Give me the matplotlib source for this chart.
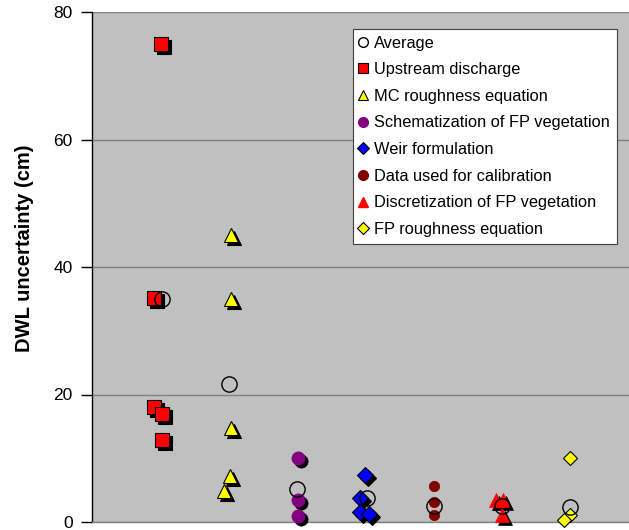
import matplotlib
matplotlib.use("Agg")
import matplotlib.pyplot as plt
from matplotlib.lines import Line2D
from matplotlib.transforms import ScaledTranslation

plt.rcParams['font.family'] = ['Liberation Sans', 'DejaVu Sans']

# ---- data ----
labels = ["Average", "Upstream discharge", "MC roughness equation",
          "Schematization of FP vegetation", "Weir formulation",
          "Data used for calibration", "Discretization of FP vegetation",
          "FP roughness equation"]

# group index, small horizontal jitter, values (cm)
upstream_x = [1.01, 0.91, 0.91, 1.03, 1.02]
upstream_y = [75.0, 35.1, 18.1, 16.9, 12.8]

mc_x = [2.03, 2.03, 2.03, 2.02, 1.93]
mc_y = [45.0, 35.0, 14.8, 7.2, 4.8]

schem_x = [3.01, 3.01, 3.01]
schem_y = [10.0, 3.4, 0.9]

weir_x = [4.0, 3.92, 3.92, 4.06]
weir_y = [7.4, 3.8, 1.6, 1.3]

calib_x = [5.0, 5.0, 5.0]
calib_y = [5.6, 3.1, 1.1]

discr_x = [5.91, 6.01, 6.0]
discr_y = [3.5, 3.5, 1.1]

fprough_x = [7.0, 7.0, 6.91]
fprough_y = [10.0, 1.1, 0.3]

avg_x = [1.02, 2.0, 3.0, 4.02, 5.0, 6.0, 7.0]
avg_y = [35.0, 21.6, 5.2, 3.7, 2.5, 2.5, 2.3]

yticks = [0, 20, 40, 60, 80]

# ---- figure ----
W, H = 629, 530
fig = plt.figure(figsize=(W / 100, H / 100), dpi=100)
ax = fig.add_axes([92 / W, 8 / H, (W - 92) / W, (522 - 12) / H])
ax.set_facecolor('#C0C0C0')
ax.set_xlim(0, 7.86)
ax.set_ylim(0, 80)
ax.set_yticks(yticks)
ax.set_xticks([])
ax.grid(axis='y', color='#808080', linewidth=1.0, zorder=0)
ax.set_axisbelow(True)
for s in ['top', 'right']:
    ax.spines[s].set_visible(False)
ax.spines['left'].set_color('black')
ax.spines['left'].set_linewidth(1.0)
ax.spines['bottom'].set_color('#808080')
ax.spines['bottom'].set_linewidth(1.0)
ax.tick_params(axis='y', length=8, width=1, pad=6, labelsize=12.5, direction='out')
ax.set_ylabel("DWL uncertainty (cm)", fontsize=14.5, fontweight='bold')
ax.yaxis.set_label_coords(-0.108, 0.537)

shadow = ax.transData + ScaledTranslation(3 / 100, -3 / 100, fig.dpi_scale_trans)

series = [
    (upstream_x, upstream_y, dict(marker='s', ms=9.5, mfc='#FF0000', mec='black', mew=0.8), True),
    (mc_x, mc_y, dict(marker='^', ms=10.5, mfc='#FFFF00', mec='black', mew=0.8), True),
    (schem_x, schem_y, dict(marker='o', ms=9.5, mfc='#800080', mec='#800080', mew=0.5), True),
    (weir_x, weir_y, dict(marker='D', ms=8, mfc='#0000FF', mec='black', mew=0.8), True),
    (calib_x, calib_y, dict(marker='o', ms=7.5, mfc='#800000', mec='#800000', mew=0.5), False),
    (discr_x, discr_y, dict(marker='^', ms=9.5, mfc='#FF0000', mec='#FF0000', mew=0.5), True),
    (fprough_x, fprough_y, dict(marker='D', ms=7.5, mfc='#FFFF00', mec='black', mew=0.8), False),
]

z = 3
for xs, ys, st, has_shadow in series:
    if has_shadow:
        ax.plot(xs, ys, linestyle='none', marker=st['marker'], ms=st['ms'],
                mfc='black', mec='black', mew=st['mew'], transform=shadow,
                clip_on=False, zorder=z)
    ax.plot(xs, ys, linestyle='none', clip_on=False, zorder=z + 0.5, **st)
    z += 1

ax.plot(avg_x, avg_y, linestyle='none', marker='o', ms=11, mfc='none',
        mec='black', mew=1.0, clip_on=False, zorder=20)

# ---- legend ----
handles = [
    Line2D([], [], linestyle='none', marker='o', ms=7, mfc='white', mec='black', mew=1.0),
    Line2D([], [], linestyle='none', marker='s', ms=7, mfc='#FF0000', mec='black', mew=0.8),
    Line2D([], [], linestyle='none', marker='^', ms=7.5, mfc='#FFFF00', mec='black', mew=0.8),
    Line2D([], [], linestyle='none', marker='o', ms=7, mfc='#800080', mec='#800080'),
    Line2D([], [], linestyle='none', marker='D', ms=6, mfc='#0000FF', mec='black', mew=0.8),
    Line2D([], [], linestyle='none', marker='o', ms=7, mfc='#800000', mec='#800000'),
    Line2D([], [], linestyle='none', marker='^', ms=7.5, mfc='#FF0000', mec='#FF0000'),
    Line2D([], [], linestyle='none', marker='D', ms=6, mfc='#FFFF00', mec='black', mew=0.8),
]
leg = ax.legend(handles, labels, loc='upper left',
                bbox_to_anchor=(353 / W, 1 - 29 / H), bbox_transform=fig.transFigure,
                borderaxespad=0, fontsize=11.8, frameon=True, fancybox=False,
                framealpha=1, edgecolor='#404040', handlelength=0.44,
                handletextpad=0.46, labelspacing=0.71, borderpad=0.4)
leg.get_frame().set_linewidth(0.8)
leg.set_zorder(30)

fig.savefig("out.png", dpi=100, facecolor='white')
